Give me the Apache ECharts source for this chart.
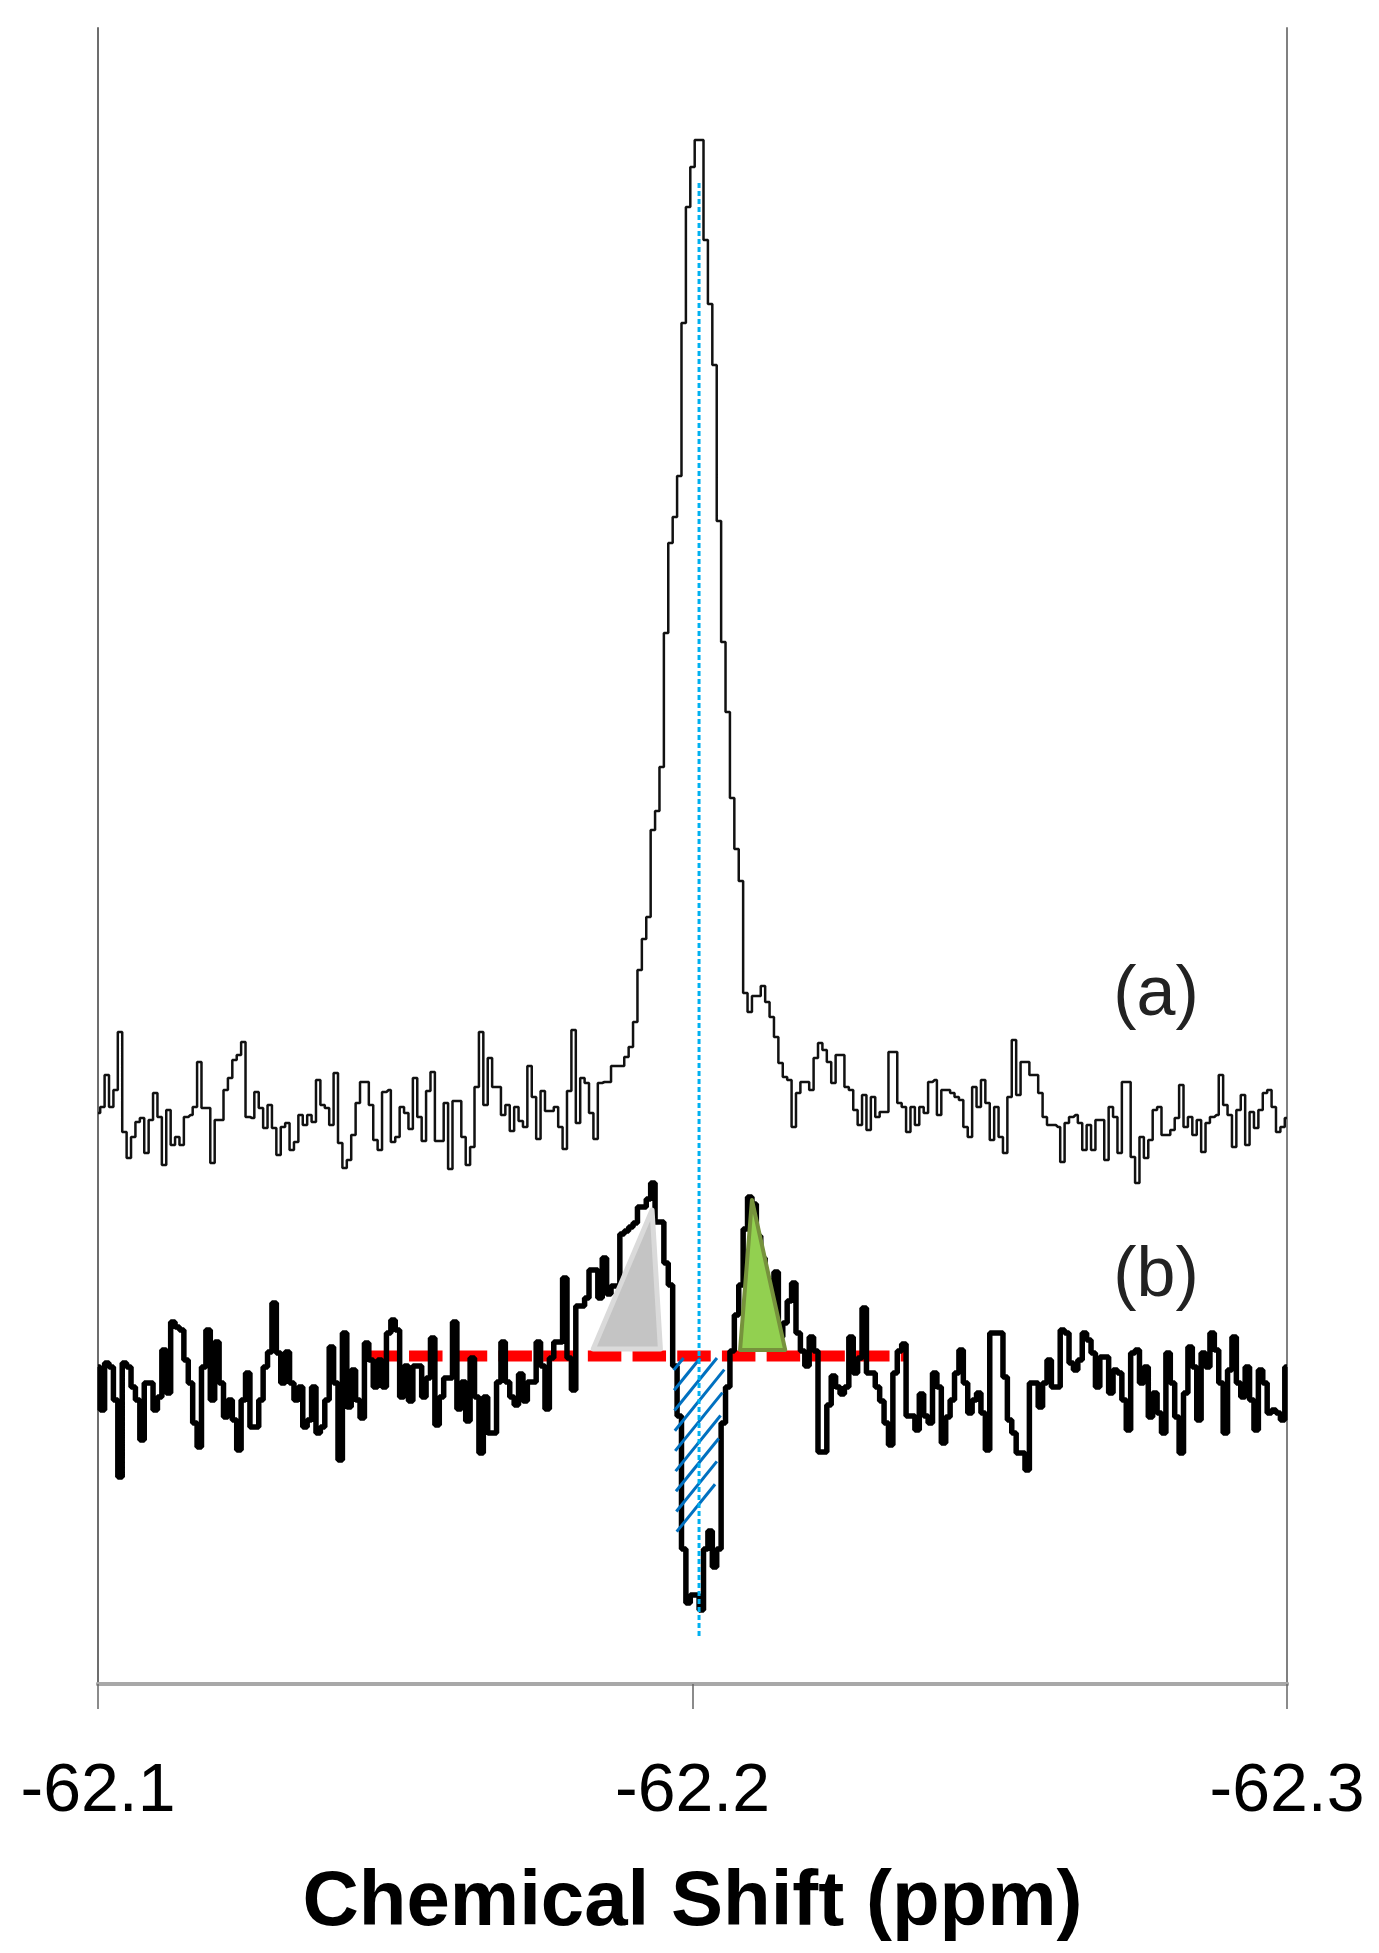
<!DOCTYPE html>
<html>
<head>
<meta charset="utf-8">
<title>Chemical Shift</title>
<script src="https://cdn.jsdelivr.net/npm/echarts@6/dist/echarts.min.js"></script>
<style>
  html, body { margin: 0; padding: 0; background: #ffffff; }
  #main { width: 1379px; height: 1953px; }
</style>
</head>
<body>
<div id="main"></div>
<script>
// spectra are sampled evenly from -62.1 to -62.3 ppm
var ppmStart = -62.1;
var ppmEnd = -62.3;
var pointCount = 271;
var xTicks = [-62.1, -62.2, -62.3];

// vertical offsets of the two stacked traces
var offsetA = 567;
var offsetB = 301;

// (a) reference spectrum, relative to its own baseline
var specA = [
  4, 10, 42, 10, 27, 85, -15, -41, -20, -5, -1, -36, -3, 24, 0, -48, 7, -28, -20, -28,
  0, 2, 10, 55, 9, 9, -46, -3, -3, 27, 39, 57, 62, 75, 0, -1, 25, 9, -11, 12,
  -11, -38, -10, -6, -33, -25, 2, -8, 2, -5, 37, 12, 9, -8, 44, -26, -51, -43, -18, 14,
  35, 35, 12, -23, -33, 25, 27, -25,
  -20, 10, 4, -12, 39, 0, -24, 26, 45, -24, -24, 14, -52, 16, 16, -20, -48, -30, 30, 85,
  12, 59, 30, 30, 2, 12, -14, 10, -4, -10, 51, 20, -22, 26, 6, 6, 10, -10, -32, 26,
  87, -6, 39, 34, 4, -22, 34,
  35, 35, 51, 51, 51, 60, 70, 95, 147, 178, 200, 287, 306, 350, 484, 574, 600, 641, 794, 910,
  950, 977, 977, 877, 813, 752, 596, 475, 405, 319, 268, 236, 124, 105, 121, 121, 131, 115, 100, 80,
  54, 40, 37, -10, 24,
  35, 35, 27, 59, 74, 67, 55, 34, 62, 62, 30, 27, 7, -8, 22, -13, 20, 0, 5, 5,
  65, 65, 14, 10, -15, 10, -8, 10, 4, 35, 37, 2, 27, 27, 24, 20, 17, -10, -20, 30,
  10, 37, 14, -23,
  10, -20, -36, 20, 77, 22, 55, 55, 42, 42, 24, 0, -8, -8, -10, -45, -6, 0, 2, -6,
  -33, -8, -33, -3, -3, -43, 10, 0, -36, 35, 35, -40, -66, -20, -41, -23, 7, 10, -18, -18,
  -13, -1, 32, -10, 0, -18, -3, -35, -6, 0, 2, 42, 12, 2, -30, 7, 22, -28, 5, -11,
  7, 24, 27, 10, -15, -10, -1
];

// (b) difference spectrum, relative to its own baseline
var specB = [
  16, -27, 20, 16, -17, -94, 20, 16, -4, -17, -57, 0, 0, -27, -14, 33, -10, 61, 56, 53,
  23, 0, -40, -64, 16, 53, -17, 41, 0, -34, -17, -37, -67, -17, 10, -44, -44, -17, 16, 31,
  80, 30, 0, 31, 0, -17, -4, -44, -37, -4, -50, -44, -17, 36, 0, -77, 50, -24, 13, -17,
  -35, 40, 23, -4, 23, -4, 50, 63,
  53, -14, 17, -18, 17, 17, -14, 5, 45, -42, -14, 5, 5, 61, -26, 1, -38, 25, -14, -70,
  -14, -50, -50, 1, 41, 1, -14, -22, 9, -18, 1, 1, 41, 17, -26, 25, 41, 41, 105, 25,
  -7, 77, 77, 85, 113, 113, 85, 125, 89, 97, 97, 149, 152, 156, 160, 176, 176, 184, 200,
  161, 161, 120, 98, 17, -33, -166, -220, -212, -212, -227, -166, -148, -184, -166, -40, -4, 32, 68, 98,
  154, 186, 179, 147, 125, 104, 82, 111, 46, 60, 82, 100, 50, 32, 17, 46, 32, -69, -69, -22,
  7, -4, -11, -4, 46, 10, 25, 75, 10, 10, -4, -18, -40, -62, 10, 32, 39, -33, -33, -47,
  -11, -33, -40, 10, -4,
  -60, -34, -17, 10, 33, 0, -30, -17, -10, -30, -67, 50,
  50, 50, 6, -37, -50, -70, -70, -87, 0, 0, -24, 0, 23, -4, -4, 53, 50, 20, 13, 23,
  50, 43, 30, -4, 26, 26, -10, 13, 10, -17, -47, 30, 33, 0, 16, -34, -10, -30, -50, 30,
  0, -34, -70, -10, 36, 16, -37, 30, 16, 50, 33, 0, -50, 13, 46, 0, -14, 16, -17, -47,
  13, 0, -30, -27, -30, -37, 16
];

// annotations (ppm, intensity relative to trace b baseline)
var centerShift = -62.2011;
var centerLine = [48, 1501];
var baseLine = [[-62.1448, 27], [-62.2359, 27]];
var grayTri = [[-62.1833, 34], [-62.1932, 173], [-62.1946, 34]];
var greenTri = [[-62.2080, 33], [-62.2100, 183], [-62.2156, 33]];
var hatchArea = [[-62.1968, 25], [-62.2055, 25], [-62.2035, -123], [-62.1974, -166]];

var step = (ppmEnd - ppmStart) / (pointCount - 1);
function toPairs(values, offset) {
  return values.map(function (v, i) {
    return [ppmStart + i * step, offset + v];
  });
}
function shiftB(points) {
  return points.map(function (p) { return [p[0], offsetB + p[1]]; });
}

var fontFamily = "'Liberation Sans', Arial, sans-serif";

function renderTriangles(params, api) {
  var shapes = [
    { pts: grayTri, fill: '#c4c4c4', stroke: '#dadada', width: 5 },
    { pts: greenTri, fill: '#92d050', stroke: '#76923c', width: 4 }
  ];
  var s = shapes[params.dataIndex];
  var pts = shiftB(s.pts).map(function (p) { return api.coord(p); });
  return {
    type: 'polygon',
    shape: { points: pts },
    style: { fill: s.fill, stroke: s.stroke, lineWidth: s.width, lineJoin: 'round' }
  };
}

function renderHatch(params, api) {
  var pts = shiftB(hatchArea).map(function (p) { return api.coord(p); });
  var ang = 51 * Math.PI / 180;
  var nx = Math.sin(ang), ny = Math.cos(ang);
  var proj = pts.map(function (p) { return p[0] * nx + p[1] * ny; });
  var lo = Math.min.apply(null, proj), hi = Math.max.apply(null, proj);
  var gap = 13;
  var children = [];
  for (var c = lo + gap * 0.6; c < hi; c += gap) {
    var hits = [];
    for (var k = 0; k < pts.length; k++) {
      var k2 = (k + 1) % pts.length;
      var s1 = proj[k] - c, s2 = proj[k2] - c;
      if ((s1 < 0) !== (s2 < 0)) {
        var t = s1 / (s1 - s2);
        hits.push([pts[k][0] + (pts[k2][0] - pts[k][0]) * t, pts[k][1] + (pts[k2][1] - pts[k][1]) * t]);
      }
    }
    if (hits.length >= 2) {
      children.push({
        type: 'line',
        shape: { x1: hits[0][0], y1: hits[0][1], x2: hits[1][0], y2: hits[1][1] },
        style: { stroke: '#0070c0', lineWidth: 3 }
      });
    }
  }
  return { type: 'group', children: children };
}

var myChart = echarts.init(document.getElementById('main'));
var option = {
  animation: false,
  backgroundColor: '#ffffff',
  grid: { left: 98, right: 92, top: 28, bottom: 269 },
  xAxis: [
    {
      type: 'value',
      min: ppmEnd,
      max: ppmStart,
      interval: 0.1,
      inverse: true,
      name: 'Chemical Shift (ppm)',
      nameLocation: 'middle',
      nameGap: 180,
      nameTextStyle: {
        fontFamily: fontFamily, fontSize: 78, fontWeight: 'bold', color: '#000000', lineHeight: 78
      },
      axisLine: { show: true, lineStyle: { color: '#888888', width: 4 } },
      axisTick: {
        show: true, inside: false, length: 25, customValues: xTicks,
        lineStyle: { color: '#666666', width: 1.5 }
      },
      axisLabel: {
        show: true, margin: 74, customValues: xTicks,
        fontFamily: fontFamily, fontSize: 68, lineHeight: 68, color: '#000000',
        formatter: function (v) { return v.toFixed(1); }
      },
      splitLine: { show: false }
    },
    {
      type: 'value',
      position: 'top',
      min: ppmEnd,
      max: ppmStart,
      inverse: true,
      axisLine: { show: true, lineStyle: { color: '#a8a8a8', width: 4 } },
      axisTick: { show: false },
      axisLabel: { show: false },
      splitLine: { show: false }
    }
  ],
  yAxis: [
    {
      type: 'value',
      min: 0,
      max: 1656,
      axisLine: { show: true, lineStyle: { color: '#6d6d6d', width: 2 } },
      axisTick: { show: false },
      axisLabel: { show: false },
      splitLine: { show: false }
    },
    {
      type: 'value',
      position: 'right',
      min: 0,
      max: 1656,
      axisLine: { show: true, lineStyle: { color: '#808080', width: 2 } },
      axisTick: { show: false },
      axisLabel: { show: false },
      splitLine: { show: false }
    }
  ],
  graphic: [
    {
      type: 'text', x: 1156, y: 996, silent: true,
      style: {
        text: '(a)', font: '70px ' + fontFamily, fill: '#222222',
        textAlign: 'center', textVerticalAlign: 'middle', align: 'center', verticalAlign: 'middle'
      }
    },
    {
      type: 'text', x: 1156, y: 1277, silent: true,
      style: {
        text: '(b)', font: '70px ' + fontFamily, fill: '#222222',
        textAlign: 'center', textVerticalAlign: 'middle', align: 'center', verticalAlign: 'middle'
      }
    }
  ],
  series: [
    {
      name: 'baseline',
      type: 'line',
      z: 1,
      silent: true,
      symbol: 'none',
      data: shiftB(baseLine),
      lineStyle: { color: '#ff0000', width: 11, type: [33.5, 11.2] }
    },
    {
      name: '(a)',
      type: 'line',
      z: 2,
      silent: true,
      step: 'middle',
      symbol: 'none',
      data: toPairs(specA, offsetA),
      lineStyle: { color: '#111111', width: 2.5 }
    },
    {
      name: '(b)',
      type: 'line',
      z: 2,
      silent: true,
      step: 'middle',
      symbol: 'none',
      data: toPairs(specB, offsetB),
      lineStyle: { color: '#000000', width: 5.5 }
    },
    {
      name: 'areas',
      type: 'custom',
      z: 3,
      silent: true,
      renderItem: renderTriangles,
      data: [shiftB(grayTri)[1], shiftB(greenTri)[1]]
    },
    {
      name: 'hatch',
      type: 'custom',
      z: 4,
      silent: true,
      renderItem: renderHatch,
      data: [shiftB(hatchArea)[0]]
    },
    {
      name: 'center',
      type: 'line',
      z: 5,
      silent: true,
      symbol: 'none',
      data: [[centerShift, centerLine[0]], [centerShift, centerLine[1]]],
      lineStyle: { color: '#00b0f0', width: 3, type: [5, 3] }
    }
  ]
};
myChart.setOption(option);
</script>
</body>
</html>
